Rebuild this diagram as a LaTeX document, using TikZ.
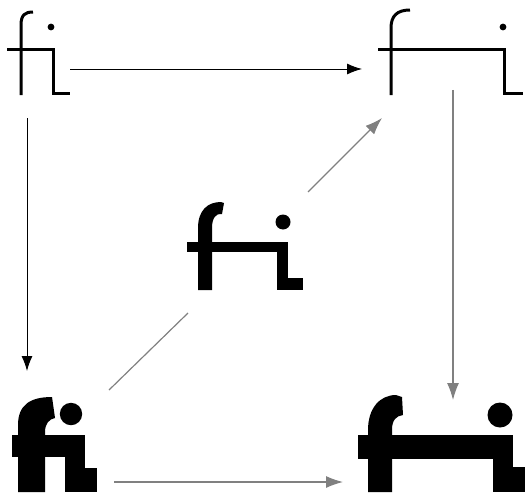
\documentclass[tikz,border=0pt]{standalone}
\usetikzlibrary{arrows.meta}
\definecolor{arrowgray}{RGB}{128,128,128}
\tikzset{
  thinglyph/.style={line width=3pt, line cap=butt, line join=miter},
  blackarrow/.style={draw=black, line width=0.9pt, -{Latex[length=15pt,width=11pt]}},
  grayarrow/.style={draw=arrowgray, line width=1.2pt, -{Latex[length=17pt,width=12pt]}},
  grayline/.style={draw=arrowgray, line width=1.2pt},
}
\begin{document}
\begin{tikzpicture}[x=1pt,y=-1pt]
\useasboundingbox (0,0) rectangle (526,492);
% ---- glyph 1: top-left (light, narrow)
\draw[thinglyph] (21,95) -- (21,25) .. controls (21,15) and (25,12) .. (33,12);
\draw[thinglyph] (7,50) -- (53,50) -- (53,93) -- (70,93);
\fill (51,27) circle (3.4);
% ---- glyph 2: top-right (light, wide)
\draw[thinglyph] (391,95) -- (391,28) .. controls (391,16) and (397,10) .. (410,10);
\draw[thinglyph] (378,50) -- (504,50) -- (504,93) -- (523,93);
\fill (503,27) circle (3.4);
% ---- glyph 3: centre (medium)
\fill (198,290) -- (198,228) .. controls (198,210) and (208,202) .. (221,202) -- (224,203)
      -- (222,214) .. controls (216,213) and (212,218) .. (212,228) -- (212,290) -- cycle;
\fill (187,242) rectangle (288,252);
\fill (277,242) rectangle (288,290);
\fill (288,278) rectangle (303,290);
\fill (283,222) circle (7.5);
% ---- glyph 4: bottom-left (bold, narrow)
\fill (18,492) -- (18,425) .. controls (18,405) and (30,397) .. (52,397)
      -- (55,418) .. controls (49,419) and (45,424) .. (45,432) -- (45,492) -- cycle;
\fill (12,435) rectangle (85,457);
\fill (65,435) rectangle (85,492);
\fill (85,468) rectangle (97,492);
\fill (71,414) circle (11.2);
% ---- glyph 5: bottom-right (bold, wide)
\fill (368,492) -- (368,430) .. controls (368,408) and (380,395) .. (396,395) -- (402,397)
      -- (403,415) .. controls (396,416) and (392,420) .. (392,430) -- (392,492) -- cycle;
\fill (358,435) rectangle (513,459);
\fill (493,435) rectangle (513,492);
\fill (513,467) rectangle (525,492);
\fill (500,415) circle (12.5);
% ---- connector ends
\coordinate (tlR) at (70,69);
\coordinate (trL) at (362,69);
\coordinate (tlB) at (27,118);
\coordinate (blT) at (27,371);
\coordinate (trB) at (453,90);
\coordinate (brT) at (453,400);
\coordinate (blR) at (114,482);
\coordinate (brL) at (343,482);
\coordinate (blD) at (109,390);
\coordinate (cL) at (188,313);
\coordinate (cR) at (308,192);
\coordinate (trD) at (382,118);
% ---- connectors
\draw[blackarrow] (tlR) -- (trL);
\draw[blackarrow] (tlB) -- (blT);
\draw[grayarrow] (trB) -- (brT);
\draw[grayarrow] (blR) -- (brL);
\draw[grayline] (blD) -- (cL);
\draw[grayarrow] (cR) -- (trD);
\end{tikzpicture}
\end{document}
